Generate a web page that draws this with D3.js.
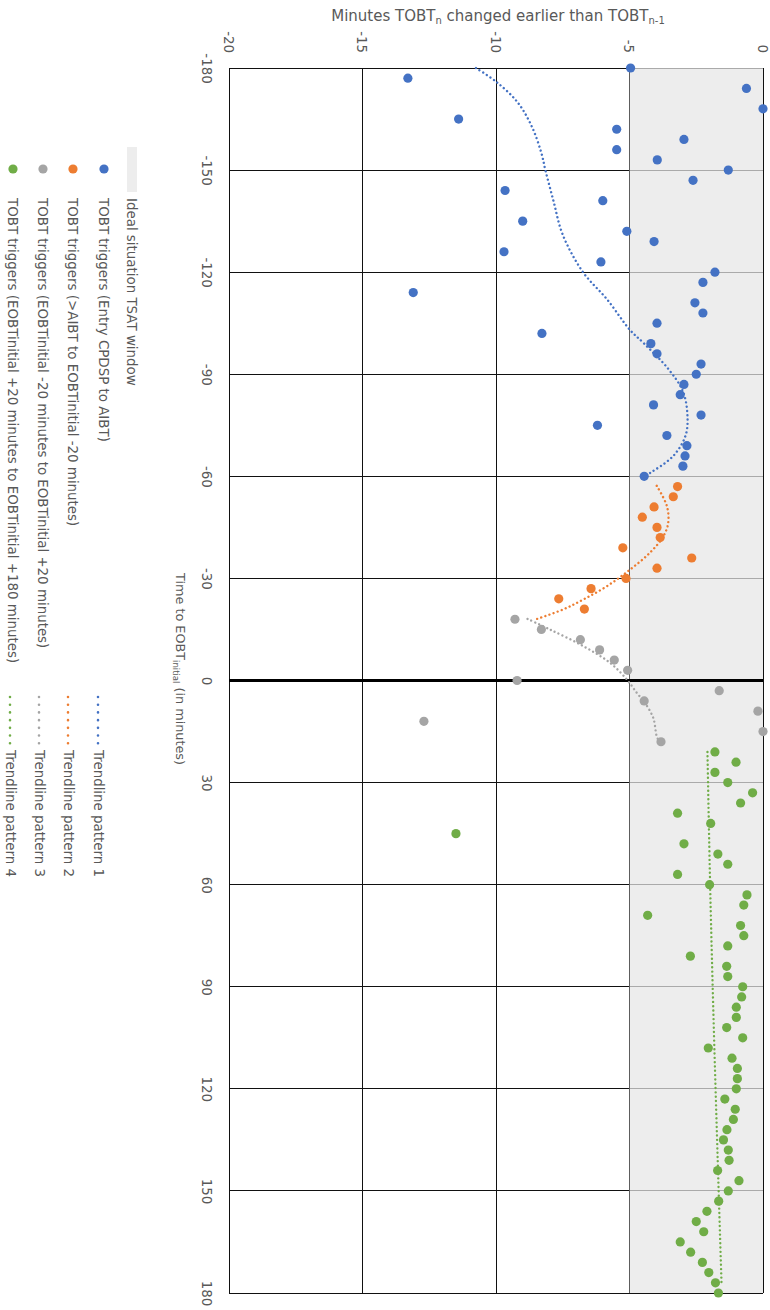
<!DOCTYPE html>
<html>
<head>
<meta charset="utf-8">
<script src="https://cdn.jsdelivr.net/npm/d3@7"></script>
<style>
body { margin: 0; background: #fff; }
text { font-family: "DejaVu Sans", sans-serif; fill: #595959; }
</style>
</head>
<body>
<svg id="chart" width="770" height="1310"></svg>
<script>
const valueTicks = [-20, -15, -10, -5, 0];
const timeTicks = [-180, -150, -120, -90, -60, -30, 0, 30, 60, 90, 120, 150, 180];
const idealWindow = [-5, 0];

// pattern 1 (blue)
const blueTime = [-180,-177,-174,-168,-165,-162,-159,-156,-153,-150,-147,-144,-141,-135,-132,-129,-126,-123,-120,-117,-114,-111,-108,-105,-102,-99,-96,-93,-90,-87,-84,-81,-78,-75,-72,-69,-66,-63,-60];
const blueVal = [-4.96,-13.3,-0.62,0,-11.4,-5.48,-2.96,-5.48,-3.96,-1.3,-2.62,-9.66,-6.0,-9.0,-5.1,-4.08,-9.7,-6.07,-1.8,-2.25,-13.1,-2.55,-2.25,-3.97,-8.28,-4.2,-3.97,-2.32,-2.5,-2.96,-3.1,-4.1,-2.32,-6.2,-3.6,-2.85,-2.92,-3.0,-4.45];
const blueTrendTime = [-180,-176,-170,-163,-155,-150,-141,-131,-120,-112,-103,-99,-91.5,-85,-78,-72,-66,-61,-60];
const blueTrendVal = [-10.75,-10.0,-9.2,-8.67,-8.3,-8.15,-7.85,-7.5,-6.74,-5.84,-4.98,-4.45,-3.54,-3.0,-2.83,-2.9,-3.36,-4.23,-4.45];

// pattern 2 (orange)
const orangeTime = [-57,-54,-51,-48,-45,-42,-39,-36,-33,-30,-27,-24,-21];
const orangeVal = [-3.2,-3.36,-4.08,-4.52,-3.97,-3.85,-5.25,-2.67,-3.97,-5.13,-6.44,-7.65,-6.69];
const orangeTrendTime = [-57.2,-51.3,-46.4,-42.4,-37.6,-32.6,-27.7,-23.8,-20.9,-18];
const orangeTrendVal = [-3.98,-3.6,-3.55,-3.73,-4.23,-4.98,-5.85,-6.73,-7.48,-8.5];

// pattern 3 (grey)
const greyTime = [-18,-15,-12,-9,-6,-3,0,3,6,9,12,15,18];
const greyVal = [-9.29,-8.3,-6.84,-6.12,-5.57,-5.07,-9.21,-1.64,-4.45,-0.19,-12.7,0,-3.82];
const greyTrendTime = [-18.1,-15,-10.1,-5.2,-0.3,3.6,6.6,11,16.4,18];
const greyTrendVal = [-8.82,-7.98,-6.73,-5.73,-5.1,-4.73,-4.42,-4.11,-3.98,-3.88];

// pattern 4 (green)
const greenTime = [21,24,27,30,33,36,39,42,45,48,51,54,57,60,63,66,69,72,75,78,81,84,87,90,93,96,99,102,105,108,111,114,117,120,123,126,129,132,135,138,141,144,147,150,153,156,159,162,165,168,171,174,177,180];
const greenVal = [-1.8,-1.01,-1.8,-1.32,-0.39,-0.84,-3.2,-1.96,-11.5,-2.96,-1.69,-1.32,-3.2,-2.0,-0.6,-0.72,-4.32,-0.84,-0.72,-1.32,-2.72,-1.36,-1.32,-0.76,-0.8,-1.0,-1.0,-1.36,-0.76,-2.05,-1.16,-0.96,-0.96,-1.0,-1.43,-1.04,-1.11,-1.35,-1.48,-1.3,-1.27,-1.7,-0.9,-1.3,-1.66,-2.1,-2.5,-2.22,-3.1,-2.71,-2.27,-2.03,-1.78,-1.67];
const greenTrendTime = [21,60,100,140,178];
const greenTrendVal = [-2.08,-1.98,-1.85,-1.7,-1.55];

const pointLabels = ["TOBT triggers (Entry CPDSP to AIBT)","TOBT triggers (>AIBT to EOBTinitial -20 minutes)","TOBT triggers (EOBTinitial -20 minutes to EOBTinitial +20 minutes)","TOBT triggers (EOBTinitial +20 minutes to EOBTinitial +180 minutes)"];
const trendLabels = ["Trendline pattern 1","Trendline pattern 2","Trendline pattern 3","Trendline pattern 4"];
const windowLabel = "Ideal situation TSAT window";

const series = [
    {color: "#4472C4", t: blueTime, v: blueVal, tt: blueTrendTime, tv: blueTrendVal},
    {color: "#ED7D31", t: orangeTime, v: orangeVal, tt: orangeTrendTime, tv: orangeTrendVal},
    {color: "#A5A5A5", t: greyTime, v: greyVal, tt: greyTrendTime, tv: greyTrendVal},
    {color: "#70AD47", t: greenTime, v: greenVal, tt: greenTrendTime, tv: greenTrendVal}
];

const svg = d3.select("#chart");
const x = d3.scaleLinear().domain([-20, 0]).range([229, 763]);
const y = d3.scaleLinear().domain([-180, 180]).range([68, 1293]);

// grid
const grid = svg.append("g").attr("shape-rendering", "crispEdges");
grid.selectAll(".vg").data(valueTicks).enter().append("line")
    .attr("x1", d => x(d)).attr("x2", d => x(d))
    .attr("y1", y(-180)).attr("y2", y(180))
    .attr("stroke", "#111").attr("stroke-width", 1);
grid.selectAll(".hg").data(timeTicks).enter().append("line")
    .attr("x1", x(-20)).attr("x2", x(0))
    .attr("y1", d => y(d)).attr("y2", d => y(d))
    .attr("stroke", "#111").attr("stroke-width", 1);

// ideal window shading
svg.append("rect")
    .attr("x", x(idealWindow[0])).attr("y", y(-180))
    .attr("width", x(idealWindow[1]) - x(idealWindow[0]))
    .attr("height", y(180) - y(-180))
    .attr("fill", "#e6e6e6").attr("fill-opacity", 0.72);

// zero line
svg.append("line")
    .attr("x1", x(-20)).attr("x2", x(0))
    .attr("y1", y(0)).attr("y2", y(0))
    .attr("stroke", "#000").attr("stroke-width", 3);

// axes
const xAxis = svg.append("g")
    .call(d3.axisTop(x).tickValues(valueTicks).tickSize(0).tickFormat(d => String(d)));
xAxis.select(".domain").remove();
xAxis.selectAll("text")
    .attr("y", null).attr("dy", null)
    .attr("text-anchor", "end")
    .attr("transform", "translate(-6,53) rotate(90)")
    .style("font-size", "13.4px");

const yAxis = svg.append("g")
    .call(d3.axisLeft(y).tickValues(timeTicks).tickSize(0).tickFormat(d => String(d)));
yAxis.select(".domain").remove();
yAxis.selectAll("text")
    .attr("x", null).attr("dy", null)
    .attr("text-anchor", "middle")
    .attr("transform", "translate(202,0) rotate(90)")
    .style("font-size", "13.4px");

// axis titles
const title = svg.append("text").attr("x", 498).attr("y", 21)
    .attr("text-anchor", "middle").style("font-size", "15px");
title.append("tspan").text("Minutes TOBT");
title.append("tspan").attr("dy", 3).style("font-size", "10px").text("n");
title.append("tspan").attr("dy", -3).text(" changed earlier than TOBT");
title.append("tspan").attr("dy", 3).style("font-size", "10px").text("n-1");

const ytitle = svg.append("text").attr("transform", "translate(176,573) rotate(90)")
    .style("font-size", "12.8px");
ytitle.append("tspan").text("Time to EOBT");
ytitle.append("tspan").attr("dy", 3).style("font-size", "8.5px").text("initial");
ytitle.append("tspan").attr("dy", -3).text(" (in minutes)");

// trendlines
const line = d3.line().x(d => x(d[1])).y(d => y(d[0])).curve(d3.curveCatmullRom);
series.forEach(s => {
    svg.append("path")
        .datum(d3.zip(s.tt, s.tv))
        .attr("d", line)
        .attr("fill", "none")
        .attr("stroke", s.color)
        .attr("stroke-width", 2.4)
        .attr("stroke-linecap", "round")
        .attr("stroke-dasharray", "0.01 4.3");
});

// points
series.forEach(s => {
    svg.append("g").selectAll("circle")
        .data(d3.zip(s.t, s.v))
        .enter().append("circle")
        .attr("cx", d => x(d[1]))
        .attr("cy", d => y(d[0]))
        .attr("r", 4.6)
        .attr("fill", s.color);
});

// legend
const legend = svg.append("g");
legend.append("rect").attr("x", 127).attr("y", 147).attr("width", 10).attr("height", 45)
    .attr("fill", "#e6e6e6").attr("fill-opacity", 0.72);
legend.append("text").attr("transform", "translate(127,198) rotate(90)")
    .style("font-size", "13.4px").text(windowLabel);

const dotX = [104, 73, 43, 13];
series.forEach((s, i) => {
    legend.append("circle").attr("cx", dotX[i]).attr("cy", 169).attr("r", 4.6).attr("fill", s.color);
    legend.append("text").attr("transform", "translate(" + (dotX[i] - 5) + ",198) rotate(90)")
        .style("font-size", "13.4px").text(pointLabels[i]);
});

const trendX = [98, 68, 39, 10];
series.forEach((s, i) => {
    legend.append("line")
        .attr("x1", trendX[i]).attr("x2", trendX[i])
        .attr("y1", 697).attr("y2", 744)
        .attr("stroke", s.color).attr("stroke-width", 2.6)
        .attr("stroke-linecap", "round").attr("stroke-dasharray", "0.01 7.7");
    legend.append("text").attr("transform", "translate(" + (trendX[i] - 4.5) + ",750) rotate(90)")
        .style("font-size", "13.4px").text(trendLabels[i]);
});
</script>
</body>
</html>
